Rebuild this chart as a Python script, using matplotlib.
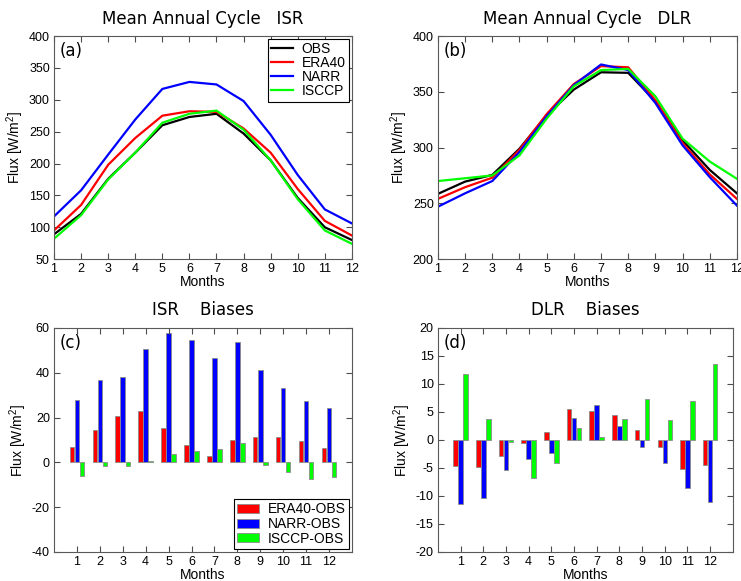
import matplotlib
matplotlib.use('Agg')
import matplotlib.pyplot as plt
import numpy as np

# values
months = list(range(1, 13))

isr_obs = [89, 121, 176, 217, 260, 273, 278, 247, 205, 146, 100, 80]
isr_era40 = [95, 135, 198, 240, 275, 282, 281, 255, 217, 160, 110, 87]
isr_narr = [117, 158, 214, 269, 317, 328, 324, 298, 245, 182, 128, 106]
isr_isccp = [82, 119, 175, 217, 264, 278, 283, 253, 205, 144, 95, 74]

dlr_obs = [258.5, 269.5, 275.5, 299, 329, 352, 367.5, 367, 341.5, 306.5, 280, 259]
dlr_era40 = [254, 264.5, 273, 298, 330, 357, 373, 372, 342.5, 304, 276, 254]
dlr_narr = [247, 259, 270, 296, 328, 356, 374.5, 369.5, 340, 302, 273.5, 248]
dlr_isccp = [270, 272.5, 275, 293, 326, 355, 369.5, 370.5, 346, 308, 287.5, 272]

isr_bias_era40 = [6.9, 14.4, 20.7, 22.8, 15.3, 7.8, 2.8, 10.0, 11.5, 11.4, 9.6, 6.4]
isr_bias_narr = [27.9, 36.9, 38.2, 50.5, 57.7, 54.7, 46.6, 53.8, 41.2, 33.3, 27.6, 24.4]
isr_bias_isccp = [-6.0, -1.5, -1.8, 0.6, 3.9, 5.1, 5.8, 8.5, -1.2, -4.3, -7.3, -6.7]

dlr_bias_era40 = [-4.6, -4.9, -2.9, -0.6, 1.4, 5.5, 5.1, 4.5, 1.8, -1.3, -5.2, -4.4]
dlr_bias_narr = [-11.4, -10.4, -5.4, -3.4, -2.4, 3.9, 6.3, 2.5, -1.2, -4.1, -8.6, -11.1]
dlr_bias_isccp = [11.7, 3.7, -0.4, -6.8, -4.2, 2.1, 0.5, 3.7, 7.4, 3.5, 7.0, 13.5]

line_names = ['OBS', 'ERA40', 'NARR', 'ISCCP']
bar_names = ['ERA40-OBS', 'NARR-OBS', 'ISCCP-OBS']
line_colors = ['black', '#ff0000', '#0000ff', '#00ff00']
bar_colors = ['#ff0000', '#0000ff', '#00ff00']

plt.rcParams['font.family'] = ['Liberation Sans', 'DejaVu Sans']
plt.rcParams['mathtext.fontset'] = 'custom'
plt.rcParams['mathtext.rm'] = 'Liberation Sans'
plt.rcParams['axes.unicode_minus'] = False


def style_axes(ax, letter, title):
    ax.tick_params(direction='in', top=True, right=True, length=4,
                   labelsize=9, color='0.3', pad=3)
    for s in ax.spines.values():
        s.set_color('0.35')
        s.set_linewidth(0.8)
    ax.set_title(title, family='DejaVu Sans', fontsize=12, pad=9)
    ax.text(0.02, 0.975, letter, transform=ax.transAxes, family='DejaVu Sans',
            fontsize=12, va='top', ha='left')
    ax.set_xlabel('Months', fontsize=10, labelpad=0)
    ax.set_ylabel(r'Flux [W/m$^{2}$]', fontsize=10, labelpad=2)


fig = plt.figure(figsize=(7.41, 5.81), dpi=100)

ax_a = fig.add_axes([0.0729, 0.554, 0.402, 0.384])
ax_b = fig.add_axes([0.591, 0.554, 0.4035, 0.384])
ax_c = fig.add_axes([0.0729, 0.050, 0.402, 0.3855])
ax_d = fig.add_axes([0.591, 0.050, 0.398, 0.3855])

# (a) ISR annual cycle
for vals, name, c in zip([isr_obs, isr_era40, isr_narr, isr_isccp], line_names, line_colors):
    ax_a.plot(months, vals, color=c, lw=1.6, label=name)
ax_a.set_xlim(1, 12)
ax_a.set_ylim(50, 400)
ax_a.set_xticks(months)
ax_a.set_yticks(np.arange(50, 401, 50))
style_axes(ax_a, '(a)', 'Mean Annual Cycle   ISR')
leg = ax_a.legend(loc='upper right', fontsize=10, fancybox=False, framealpha=1,
                  handlelength=1.6, handletextpad=0.6, borderaxespad=0.2,
                  labelspacing=0.0, borderpad=0.25)
leg.get_frame().set_edgecolor('black')
leg.get_frame().set_linewidth(0.8)

# (b) DLR annual cycle
for vals, c in zip([dlr_obs, dlr_era40, dlr_narr, dlr_isccp], line_colors):
    ax_b.plot(months, vals, color=c, lw=1.6)
ax_b.set_xlim(1, 12)
ax_b.set_ylim(200, 400)
ax_b.set_xticks(months)
ax_b.set_yticks(np.arange(200, 401, 50))
style_axes(ax_b, '(b)', 'Mean Annual Cycle   DLR')

# bar panels
x = np.array(months)
w = 0.2
offsets = [-0.22, 0.0, 0.22]

for vals, name, c, off in zip([isr_bias_era40, isr_bias_narr, isr_bias_isccp],
                              bar_names, bar_colors, offsets):
    ax_c.bar(x + off, vals, width=w, color=c, edgecolor='0.55', linewidth=0.6, label=name)
ax_c.set_xlim(0, 13)
ax_c.set_ylim(-40, 60)
ax_c.set_xticks(months)
ax_c.set_yticks(np.arange(-40, 61, 20))
style_axes(ax_c, '(c)', 'ISR    Biases')
leg2 = ax_c.legend(loc='lower right', fontsize=10, fancybox=False, framealpha=1,
                   handlelength=1.6, handleheight=0.6, handletextpad=0.6,
                   borderaxespad=0.2, labelspacing=0.05, borderpad=0.25)
leg2.get_frame().set_edgecolor('black')
leg2.get_frame().set_linewidth(0.8)

for vals, c, off in zip([dlr_bias_era40, dlr_bias_narr, dlr_bias_isccp], bar_colors, offsets):
    ax_d.bar(x + off, vals, width=w, color=c, edgecolor='0.55', linewidth=0.6)
ax_d.set_xlim(0, 13)
ax_d.set_ylim(-20, 20)
ax_d.set_xticks(months)
ax_d.set_yticks(np.arange(-20, 21, 5))
style_axes(ax_d, '(d)', 'DLR    Biases')

fig.savefig('out.png', dpi=100)
